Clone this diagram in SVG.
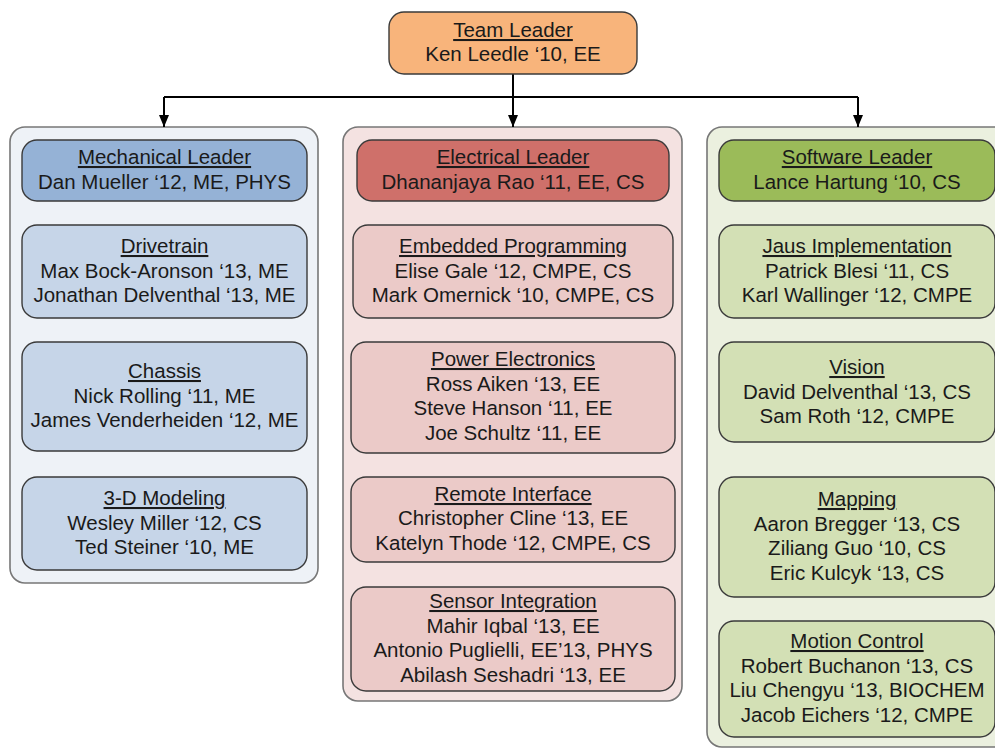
<svg xmlns="http://www.w3.org/2000/svg" width="995" height="749" viewBox="0 0 995 749">
<defs>
<marker id="arr" markerWidth="12" markerHeight="10" refX="12" refY="5" orient="auto" markerUnits="userSpaceOnUse">
<path d="M0,0 L12,5 L0,10 Z" fill="#000"/>
</marker>
<style>
text{font-family:"Liberation Sans",Arial,sans-serif;font-size:20.5px;fill:#1a1a1a;text-anchor:middle}
.t{text-decoration:underline}
.box{stroke:#3a3a3a;stroke-width:1.4}
.cont{stroke:#777;stroke-width:1.6}
.conn{fill:none;stroke:#000;stroke-width:2}
</style>
</defs>
<rect width="995" height="749" fill="#fff"/>

<g id="containers">
<rect id="mech-container" class="cont" x="10" y="127" width="308" height="456" rx="15" fill="#eef2f7"/>
<rect id="elec-container" class="cont" x="343" y="127" width="339" height="574" rx="15" fill="#f4e2e1"/>
<rect id="soft-container" class="cont" x="707" y="127" width="310" height="620" rx="15" fill="#ebf0df"/>
</g>

<g id="connectors">
<path class="conn" d="M513,74 V127" marker-end="url(#arr)"/>
<path class="conn" d="M164,97 H858"/>
<path class="conn" d="M164,97 V127" marker-end="url(#arr)"/>
<path class="conn" d="M858,97 V127" marker-end="url(#arr)"/>
</g>

<g id="team-leader">
<rect class="box" x="389" y="12" width="248" height="62" rx="15" fill="#f8b47b"/>
<text x="513" y="37" class="t">Team Leader</text>
<text x="513" y="61">Ken Leedle ‘10, EE</text>
</g>

<g id="mech-leader">
<rect class="box" x="22" y="140" width="285" height="61" rx="15" fill="#95b2d6"/>
<text x="164.5" y="164" class="t">Mechanical Leader</text>
<text x="164.5" y="189">Dan Mueller ‘12, ME, PHYS</text>
</g>
<g id="drivetrain">
<rect class="box" x="22" y="225" width="285" height="93" rx="15" fill="#c6d5e8"/>
<text x="164.5" y="253" class="t">Drivetrain</text>
<text x="164.5" y="278">Max Bock-Aronson ‘13, ME</text>
<text x="164.5" y="302">Jonathan Delventhal ‘13, ME</text>
</g>
<g id="chassis">
<rect class="box" x="22" y="342" width="285" height="109" rx="15" fill="#c6d5e8"/>
<text x="164.5" y="378" class="t">Chassis</text>
<text x="164.5" y="403">Nick Rolling ‘11, ME</text>
<text x="164.5" y="427">James Venderheiden ‘12, ME</text>
</g>
<g id="modeling">
<rect class="box" x="22" y="477" width="285" height="93" rx="15" fill="#c6d5e8"/>
<text x="164.5" y="505" class="t">3-D Modeling</text>
<text x="164.5" y="530">Wesley Miller ‘12, CS</text>
<text x="164.5" y="554">Ted Steiner ‘10, ME</text>
</g>

<g id="elec-leader">
<rect class="box" x="357" y="140" width="312" height="61" rx="15" fill="#cf706a"/>
<text x="513" y="164" class="t">Electrical Leader</text>
<text x="513" y="189">Dhananjaya Rao ‘11, EE, CS</text>
</g>
<g id="embedded">
<rect class="box" x="353" y="225" width="320" height="93" rx="15" fill="#ebcac8"/>
<text x="513" y="253" class="t">Embedded Programming</text>
<text x="513" y="278">Elise Gale ‘12, CMPE, CS</text>
<text x="513" y="302">Mark Omernick ‘10, CMPE, CS</text>
</g>
<g id="power">
<rect class="box" x="351" y="342" width="324" height="111" rx="15" fill="#ebcac8"/>
<text x="513" y="366" class="t">Power Electronics</text>
<text x="513" y="391">Ross Aiken ‘13, EE</text>
<text x="513" y="415">Steve Hanson ‘11, EE</text>
<text x="513" y="440">Joe Schultz ‘11, EE</text>
</g>
<g id="remote">
<rect class="box" x="351" y="477" width="324" height="85" rx="15" fill="#ebcac8"/>
<text x="513" y="501" class="t">Remote Interface</text>
<text x="513" y="525">Christopher Cline ‘13, EE</text>
<text x="513" y="550">Katelyn Thode ‘12, CMPE, CS</text>
</g>
<g id="sensor">
<rect class="box" x="351" y="587" width="324" height="104" rx="15" fill="#ebcac8"/>
<text x="513" y="608" class="t">Sensor Integration</text>
<text x="513" y="633">Mahir Iqbal ‘13, EE</text>
<text x="513" y="657">Antonio Puglielli, EE’13, PHYS</text>
<text x="513" y="682">Abilash Seshadri ‘13, EE</text>
</g>

<g id="soft-leader">
<rect class="box" x="719" y="140" width="276" height="61" rx="15" fill="#9bbb59"/>
<text x="857" y="164" class="t">Software Leader</text>
<text x="857" y="189">Lance Hartung ‘10, CS</text>
</g>
<g id="jaus">
<rect class="box" x="719" y="225" width="276" height="93" rx="15" fill="#d3e0b5"/>
<text x="857" y="253" class="t">Jaus Implementation</text>
<text x="857" y="278">Patrick Blesi ‘11, CS</text>
<text x="857" y="302">Karl Wallinger ‘12, CMPE</text>
</g>
<g id="vision">
<rect class="box" x="719" y="342" width="276" height="100" rx="15" fill="#d3e0b5"/>
<text x="857" y="374" class="t">Vision</text>
<text x="857" y="399">David Delventhal ‘13, CS</text>
<text x="857" y="423">Sam Roth ‘12, CMPE</text>
</g>
<g id="mapping">
<rect class="box" x="719" y="477" width="276" height="120" rx="15" fill="#d3e0b5"/>
<text x="857" y="506" class="t">Mapping</text>
<text x="857" y="531">Aaron Bregger ‘13, CS</text>
<text x="857" y="555">Ziliang Guo ‘10, CS</text>
<text x="857" y="580">Eric Kulcyk ‘13, CS</text>
</g>
<g id="motion">
<rect class="box" x="719" y="621" width="276" height="116" rx="15" fill="#d3e0b5"/>
<text x="857" y="648" class="t">Motion Control</text>
<text x="857" y="673">Robert Buchanon ‘13, CS</text>
<text x="857" y="697">Liu Chengyu ‘13, BIOCHEM</text>
<text x="857" y="722">Jacob Eichers ‘12, CMPE</text>
</g>
</svg>
